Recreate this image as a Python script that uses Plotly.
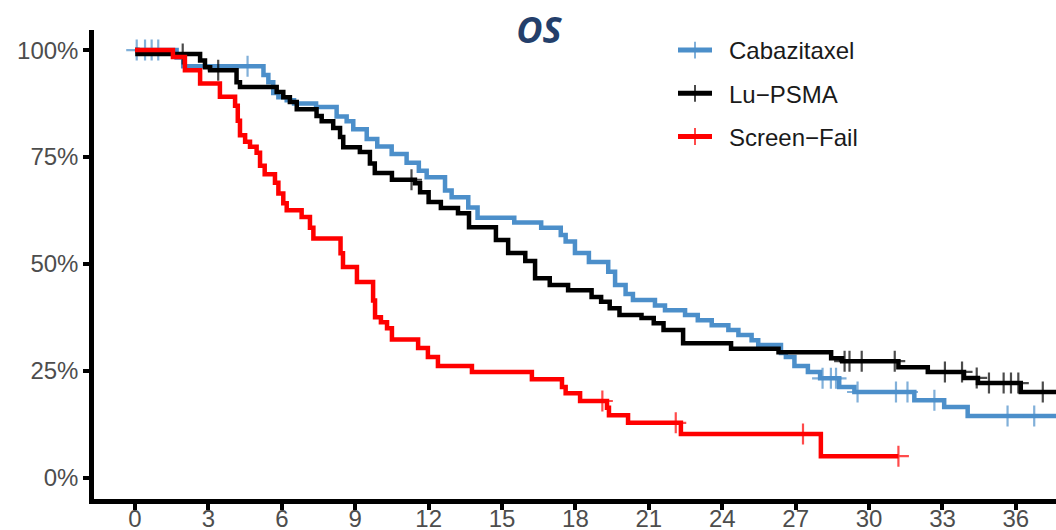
import numpy as np
import plotly.graph_objects as go

# Kaplan-Meier overall survival, months vs. survival (%)
cabazitaxel_time = [0, 1.7, 1.97, 5.25, 5.45, 5.65, 5.86, 6.2, 6.5, 7.4, 8.24, 8.65, 8.92, 9.47, 9.9,
                    10.49, 11.1, 11.6, 11.92, 12.67, 12.94, 13.62, 14.0, 15.5, 16.6, 17.4, 17.6, 17.98,
                    18.55, 19.34, 19.62, 20.05, 20.35, 21.25, 21.66, 22.48, 23.0, 23.57, 24.25, 24.66,
                    25.2, 25.47, 26.4, 26.6, 26.95, 27.5, 28.0, 28.78, 29.4, 31.85, 33.07, 34.03, 38.0]
cabazitaxel_surv = [100, 98.3, 96.2, 94.2, 92.5, 90.0, 89.0, 88.3, 87.5, 86.7, 84.5, 83.4, 81.5, 79.2, 77.5,
                    75.7, 73.7, 71.8, 70.3, 67.2, 65.6, 63.2, 60.8, 59.7, 58.5, 56.8, 55.3, 52.6,
                    50.5, 48.2, 45.1, 43.0, 41.6, 40.3, 39.2, 38.1, 36.9, 35.7, 34.6, 33.4,
                    32.2, 31.1, 29.2, 28.3, 26.2, 24.8, 23.3, 21.3, 20.1, 18.2, 16.6, 14.5, 14.5]
cabazitaxel_censor = [0.07, 0.41, 0.68, 0.95, 4.6, 28.1, 28.44, 28.65, 29.53, 31.1, 31.57, 32.67, 35.66, 36.75]

lupsma_time = [0, 0.1, 2.66, 2.86, 3.07, 4.15, 4.29, 5.79, 6.06, 6.33, 6.61, 7.42, 7.63, 8.1, 8.38, 8.51,
               9.19, 9.6, 9.8, 10.5, 11.44, 11.65, 12.0, 12.5, 13.2, 13.65, 14.75, 15.25, 15.95, 16.35,
               16.95, 17.7, 18.66, 19.05, 19.4, 19.8, 20.7, 21.2, 21.6, 22.4, 24.36, 26.3, 28.45, 28.9,
               31.2, 32.4, 33.88, 34.45, 36.2, 38.0]
lupsma_surv = [100, 99.1, 97.6, 96.0, 95.3, 92.5, 91.4, 90.2, 89.0, 87.9, 86.2, 84.6, 83.4, 81.8, 79.7, 77.3,
               76.2, 73.5, 71.3, 69.7, 68.9, 66.8, 64.5, 63.1, 61.9, 58.6, 55.6, 52.6, 50.7, 46.7,
               45.1, 43.9, 42.3, 41.2, 39.7, 38.1, 37.4, 36.2, 34.6, 31.5, 30.2, 29.4, 28.0, 27.3,
               25.9, 24.8, 23.4, 22.2, 20.1, 20.1]
lupsma_censor = [1.95, 3.4, 11.3, 29.0, 29.2, 29.7, 31.05, 33.1, 33.8, 34.4, 34.9, 35.5, 35.8, 36.1, 37.1]

screenfail_time = [0, 1.55, 2.04, 2.66, 3.47, 4.09, 4.2, 4.29, 4.5, 4.7, 4.97, 5.11, 5.3, 5.72, 5.86,
                   6.06, 6.2, 6.81, 7.15, 7.29, 8.4, 8.5, 9.07, 9.73, 9.81, 10.05, 10.3, 10.5, 11.57,
                   11.97, 12.38, 13.77, 16.22, 17.45, 17.6, 18.19, 19.29, 19.37, 20.15, 22.31, 28.03, 31.2]
screenfail_surv = [100, 98.4, 95.3, 92.2, 89.1, 87.0, 83.5, 80.1, 78.6, 77.4, 76.0, 73.0, 71.0, 69.0, 66.5,
                   64.2, 62.6, 61.0, 58.5, 56.0, 52.5, 49.3, 45.8, 41.5, 37.6, 36.4, 35.0, 32.4, 30.4,
                   28.3, 26.2, 24.8, 23.1, 21.3, 19.8, 18.0, 16.4, 14.7, 12.9, 10.3, 5.1, 5.1]
screenfail_censor = [19.1, 22.1, 27.3, 31.2]

arms = ["Cabazitaxel", "Lu\u2212PSMA", "Screen\u2212Fail"]
colors = ["#4C8FCA", "#000000", "#FF0000"]
x_ticks = list(range(0, 37, 3))
y_ticks = [0, 0.25, 0.5, 0.75, 1.0]
x_range = [-1.676, 37.64]


def km_series(times, surv, censor):
    """Step points plus censor marks placed on the curve."""
    times = np.asarray(times, float)
    surv = np.asarray(surv, float) / 100.0
    pts = [(t, s, 0) for t, s in zip(times, surv)]
    for c in censor:
        idx = np.searchsorted(times, c, side="right") - 1
        pts.append((c, surv[idx], 1))
    pts.sort(key=lambda p: (p[0], p[2]))
    xs = [p[0] for p in pts]
    ys = [p[1] for p in pts]
    sizes = [15 if p[2] else 0 for p in pts]
    return xs, ys, sizes


fig = go.Figure()
data = [
    (cabazitaxel_time, cabazitaxel_surv, cabazitaxel_censor),
    (lupsma_time, lupsma_surv, lupsma_censor),
    (screenfail_time, screenfail_surv, screenfail_censor),
]
for name, color, (t, s, c) in zip(arms, colors, data):
    xs, ys, sizes = km_series(t, s, c)
    fig.add_trace(go.Scatter(
        x=xs, y=ys, name="\u2002" + name, legendgroup=name,
        mode="lines+markers",
        line=dict(color=color, width=4.5, shape="hv"),
        marker=dict(symbol="cross-thin", size=sizes, color=color,
                    line=dict(color=color, width=2.2)),
    ))

# month labels live on a companion axis sitting just under the tick marks
fig.add_trace(go.Scatter(x=[x_ticks[0]], y=[0], xaxis="x2", mode="markers",
                         marker=dict(opacity=0), showlegend=False, hoverinfo="skip"))

axis_font = dict(family="Liberation Sans, Arial, sans-serif", size=24, color="#4D4D4D")

fig.update_layout(
    width=1056, height=530,
    margin=dict(l=94, r=0, t=30, b=0, autoexpand=False),
    plot_bgcolor="white", paper_bgcolor="white",
    title=dict(text="OS", x=539 / 1056, xanchor="center", y=1 - 30 / 530, yanchor="middle",
               font=dict(family="Open Sans, sans-serif", size=36, color="#243F6B",
                         weight="bold", style="italic")),
    legend=dict(x=(673 - 94) / 962, y=1.004, xanchor="left", yanchor="top",
                bgcolor="rgba(0,0,0,0)", itemwidth=34, itemsizing="constant",
                traceorder="grouped", tracegroupgap=9,
                font=dict(family="Liberation Sans, Arial, sans-serif", size=24, color="#1A1A1A")),
    showlegend=True,
    xaxis=dict(
        range=x_range, tickvals=x_ticks, showticklabels=False,
        showgrid=False, zeroline=False, showline=True, linecolor="black", linewidth=4.5,
        ticks="outside", ticklen=6, tickwidth=4, tickcolor="black", automargin=False,
    ),
    xaxis2=dict(
        overlaying="x", anchor="free", position=0.056,
        range=x_range, tickvals=x_ticks, ticktext=[str(v) for v in x_ticks],
        showgrid=False, zeroline=False, showline=False, ticks="",
        tickfont=axis_font, automargin=False,
    ),
    yaxis=dict(
        domain=[31 / 500, 1], range=[-0.049, 1.047], tickvals=y_ticks, tickformat=".0%",
        showgrid=False, zeroline=False, showline=True, linecolor="black", linewidth=4.5,
        ticks="outside", ticklen=6, tickwidth=4, tickcolor="black", tickfont=axis_font,
        automargin=False,
    ),
)

fig.write_html("out.html")
